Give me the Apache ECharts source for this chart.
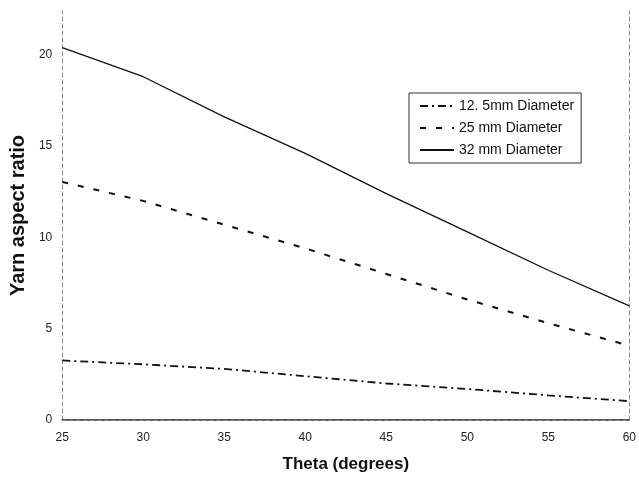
<!DOCTYPE html>
<html>
<head>
<meta charset="utf-8">
<script src="https://cdn.jsdelivr.net/npm/echarts@6/dist/echarts.min.js"></script>
<style>
  html, body { margin: 0; padding: 0; background: #fff; }
  #chart { width: 639px; height: 478px; }
</style>
</head>
<body>
<div id="chart"></div>
<script>
// theta values (degrees)
var theta = [25, 30, 35, 40, 45, 50, 55, 60];
// yarn aspect ratio per diameter
var d125 = [3.26, 3.05, 2.8, 2.4, 2.0, 1.7, 1.35, 1.03];
var d25 = [13.04, 12.0, 10.7, 9.4, 8.0, 6.6, 5.3, 4.07];
var d32 = [20.4, 18.8, 16.6, 14.6, 12.4, 10.3, 8.2, 6.25];
var names = ["12. 5mm Diameter", "25 mm Diameter", "32 mm Diameter"];

function pairs(ys) {
  return theta.map(function (t, i) { return [t, ys[i]]; });
}

var fontFamily = "Liberation Sans, Arial, sans-serif";
var chartDom = echarts.init(document.getElementById("chart"));

var frame = { show: true, lineStyle: { color: "#888", width: 1, type: [4, 3] } };

var option = {
  animation: false,
  textStyle: { fontFamily: fontFamily, color: "#111" },
  grid: { left: 62, right: 8, top: 11, bottom: 52 },
  legend: {
    orient: "vertical",
    left: 409,
    top: 93,
    padding: [6, 7, 6, 10],
    itemWidth: 34,
    itemHeight: 14,
    itemGap: 8,
    borderColor: "#333",
    borderWidth: 1,
    // hide the marker dot, keep only the line sample
    itemStyle: { opacity: 0 },
    textStyle: { fontSize: 14, color: "#111", fontFamily: fontFamily },
    data: names,
  },
  xAxis: [
    {
      type: "value",
      min: 25,
      max: 60,
      interval: 5,
      name: "Theta (degrees)",
      nameLocation: "middle",
      nameGap: 36,
      nameTextStyle: { fontSize: 17, fontWeight: "bold", color: "#111" },
      axisLine: { show: true, lineStyle: { color: "#222", width: 1.5 } },
      axisTick: { show: false },
      splitLine: { show: false },
      axisLabel: { fontSize: 12, color: "#222", margin: 12 },
    },
    {
      type: "value",
      position: "top",
      min: 25,
      max: 60,
      axisLine: frame,
      axisTick: { show: false },
      axisLabel: { show: false },
      splitLine: { show: false },
    },
  ],
  yAxis: [
    {
      type: "value",
      min: 0,
      max: 22.4,
      interval: 5,
      name: "Yarn aspect ratio",
      nameLocation: "middle",
      nameGap: 34,
      nameTextStyle: { fontSize: 20, fontWeight: "bold", color: "#111" },
      axisLine: frame,
      axisTick: { show: false },
      splitLine: { show: false },
      axisLabel: { fontSize: 12, color: "#222", margin: 10, showMaxLabel: false },
    },
    {
      type: "value",
      position: "right",
      min: 0,
      max: 22.4,
      axisLine: frame,
      axisTick: { show: false },
      axisLabel: { show: false },
      splitLine: { show: false },
    },
  ],
  series: [
    {
      name: names[0],
      type: "line",
      showSymbol: false,
      symbol: "none",
      itemStyle: { color: "#111" },
      lineStyle: { color: "#111", width: 1.8, type: [8, 4, 2, 4] },
      data: pairs(d125),
    },
    {
      name: names[1],
      type: "line",
      showSymbol: false,
      symbol: "none",
      itemStyle: { color: "#111" },
      lineStyle: { color: "#111", width: 2, type: [6, 10] },
      data: pairs(d25),
    },
    {
      name: names[2],
      type: "line",
      showSymbol: false,
      symbol: "none",
      itemStyle: { color: "#111" },
      lineStyle: { color: "#111", width: 1.3, type: "solid" },
      data: pairs(d32),
    },
  ],
};

chartDom.setOption(option);
</script>
</body>
</html>
